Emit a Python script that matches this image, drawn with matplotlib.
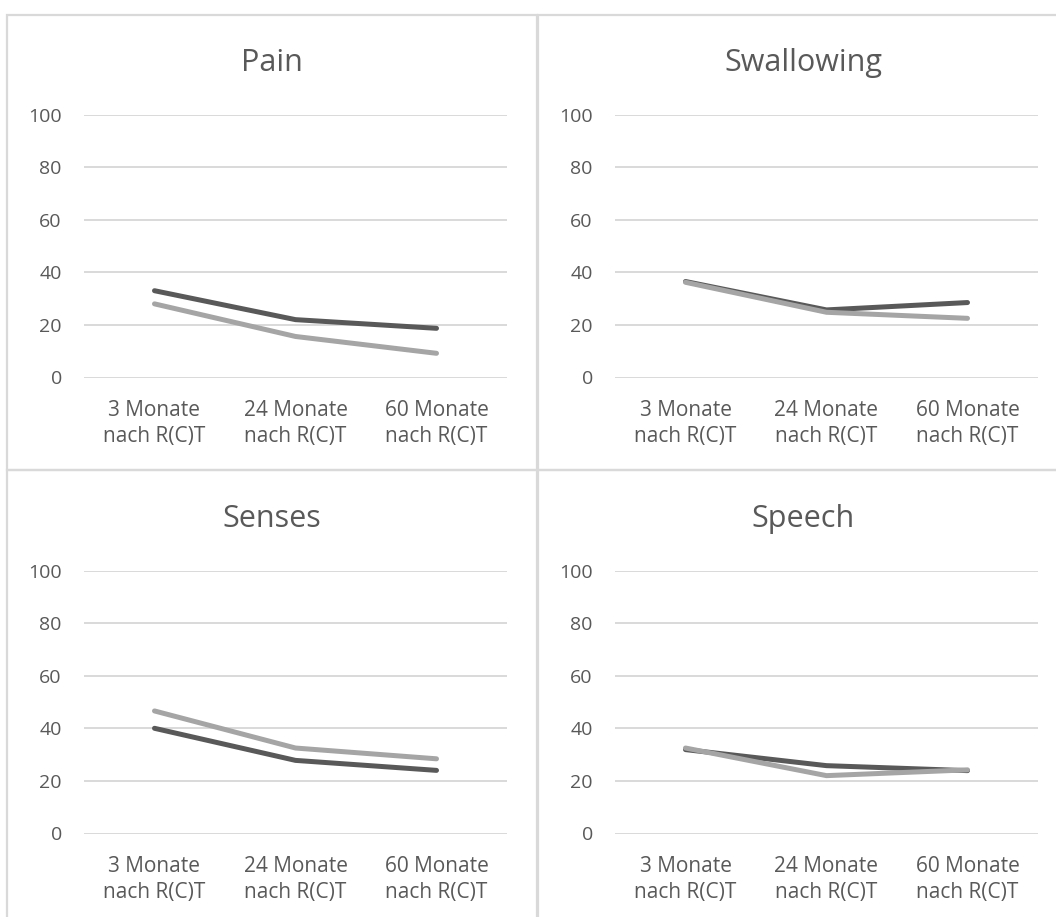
import matplotlib

matplotlib.use("Agg")
import matplotlib.pyplot as plt
from matplotlib.patches import Rectangle

plt.rcParams["font.family"] = ["Open Sans", "DejaVu Sans"]

categories = ["3 Monate\nnach R(C)T", "24 Monate\nnach R(C)T", "60 Monate\nnach R(C)T"]
titles = ["Pain", "Swallowing", "Senses", "Speech"]

pain_dark = [33.0, 22.0, 18.7]
pain_light = [28.0, 15.6, 9.2]
swallowing_dark = [36.5, 25.7, 28.5]
swallowing_light = [36.2, 24.8, 22.5]
senses_dark = [40.0, 27.8, 24.0]
senses_light = [46.6, 32.5, 28.4]
speech_dark = [31.9, 25.8, 23.9]
speech_light = [32.5, 22.0, 24.2]

dark_series = [pain_dark, swallowing_dark, senses_dark, speech_dark]
light_series = [pain_light, swallowing_light, senses_light, speech_light]
yticks = [0, 20, 40, 60, 80, 100]

W, H = 1056, 917
DARK = "#595959"
LIGHT = "#A5A5A5"
GRID = "#D9D9D9"
TEXT = "#595959"

fig = plt.figure(figsize=(W / 100, H / 100), dpi=100)


def px_rect(x0, y0, x1, y1):
    # pixel box (top-left origin) -> figure fraction [left, bottom, width, height]
    return [x0 / W, 1 - y1 / H, (x1 - x0) / W, (y1 - y0) / H]


# chart frames, 2x2
for col in range(2):
    for row in range(2):
        x0 = 7 + col * 531
        y0 = 15 + row * 455
        l, b, w, h = px_rect(x0, y0, x0 + 530, y0 + 455)
        fig.add_artist(Rectangle((l, b), w, h, transform=fig.transFigure,
                                 fill=False, edgecolor=GRID, lw=1.6))

for i, title in enumerate(titles):
    row, col = divmod(i, 2)
    dx = col * 531
    dy = row * 456
    ax = fig.add_axes(px_rect(84 + dx, 114.5 + dy, 507 + dx, 377.5 + dy))

    x = range(len(categories))
    ax.plot(x, dark_series[i], color=DARK, lw=3.6, solid_capstyle="round",
            solid_joinstyle="round", zorder=3)
    ax.plot(x, light_series[i], color=LIGHT, lw=3.6, solid_capstyle="round",
            solid_joinstyle="round", zorder=4)

    ax.set_xlim(-0.5, 2.5)
    ax.set_ylim(0, 100)
    ax.set_yticks(yticks)
    ax.set_xticks(list(x))
    ax.set_xticklabels(categories, linespacing=1.35)
    ax.yaxis.grid(True, color=GRID, lw=1.4)
    ax.set_axisbelow(True)
    for s in ax.spines.values():
        s.set_visible(False)
    ax.tick_params(axis="y", length=0, pad=16, labelsize=14, labelcolor=TEXT)
    ax.tick_params(axis="x", length=0, pad=16, labelsize=15, labelcolor=TEXT)

    tx = (7 + 537) / 2 + dx
    fig.text(tx / W, 1 - (71 + dy) / H, title, ha="center", va="baseline",
             fontsize=22, color=TEXT)

fig.savefig("out.png", dpi=100, facecolor="white")
